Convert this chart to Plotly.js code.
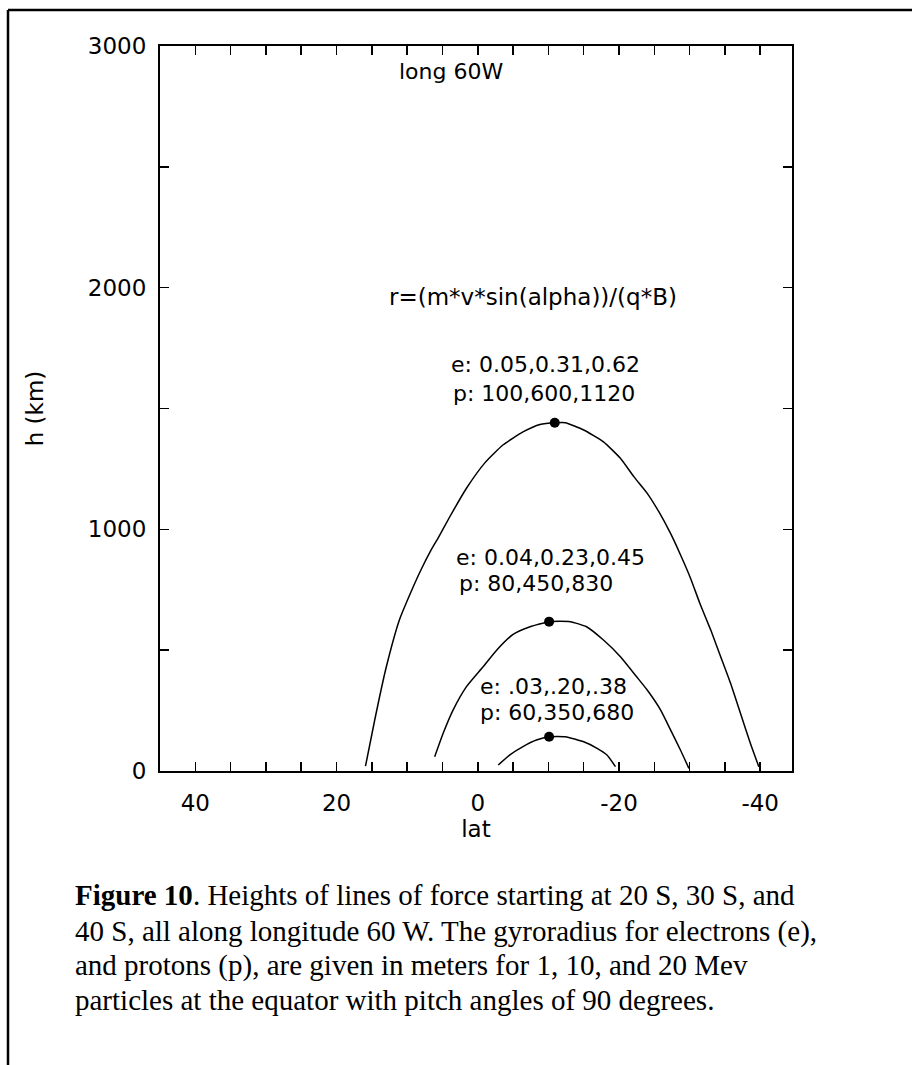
<!DOCTYPE html>
<html>
<head>
<meta charset="utf-8">
<script src="https://cdn.plot.ly/plotly-3.0.1.min.js"></script>
<style>
html,body{margin:0;padding:0;background:#fff;}
#chart{width:912px;height:1065px;}
</style>
</head>
<body>
<div id="chart"></div>
<script>
// ---- data ----
const line40Lat = [15.9, 14.6, 13.0, 11.1, 9.4, 8.0, 6.6, 5.6, 4.0, 1.6, -1.0, -3.6, -6.4, -8.8, -11.1, -12.4, -15.0, -17.8, -20.2, -22.1, -24.0, -25.6, -27.3, -28.7, -30.1, -31.5, -33.0, -34.4, -35.8, -37.2, -38.6, -39.8];
const line40H   = [20, 210, 425, 625, 745, 835, 915, 965, 1050, 1170, 1275, 1350, 1403, 1434, 1441, 1441, 1411, 1362, 1294, 1218, 1149, 1075, 983, 895, 800, 690, 583, 473, 363, 239, 115, 18];

const line30Lat = [6.1, 4.9, 3.5, 1.6, -0.75, -2.7, -5.0, -7.4, -10.1, -13.1, -15.4, -17.8, -20.2, -22.5, -24.0, -25.9, -27.3, -28.7, -29.9];
const line30H   = [59, 156, 252, 349, 431, 501, 565, 597, 618, 618, 597, 542, 473, 390, 335, 252, 170, 87, 11];

const line20Lat = [-2.9, -4.5, -6.4, -8.3, -10.1, -12.4, -15.0, -16.9, -18.3, -19.5];
const line20H   = [25, 66, 101, 128, 142, 142, 121, 94, 66, 18];

const apexLat = [-10.9, -10.1, -10.1];
const apexH   = [1441, 618, 142];

const latTickVals = [40, 35, 30, 25, 20, 15, 10, 5, 0, -5, -10, -15, -20, -25, -30, -35, -40];
const latTickText = ['40', '', '', '', '20', '', '', '', '0', '', '', '', '-20', '', '', '', '-40'];
const hTickVals = [0, 500, 1000, 1500, 2000, 2500, 3000];
const hTickText = ['0', '', '1000', '', '2000', '', '3000'];

const gyroLabels = [
  'e: 0.05,0.31,0.62', 'p: 100,600,1120',
  'e: 0.04,0.23,0.45', 'p: 80,450,830',
  'e: .03,.20,.38', 'p: 60,350,680'
];
const captionLines = [
  '<b>Figure 10</b>. Heights of lines of force starting at 20 S, 30 S, and',
  '40 S, all along longitude 60 W. The gyroradius for electrons (e),',
  'and protons (p), are given in meters for 1, 10, and 20 Mev',
  'particles at the equator with pitch angles of 90 degrees.'
];

// ---- figure ----
const FONT = 'DejaVu Sans, Arial, sans-serif';
const lineStyle = {color: '#000', width: 1.5, shape: 'spline', smoothing: 0.5};

const traces = [
  {x: line40Lat, y: line40H, mode: 'lines', line: lineStyle, hoverinfo: 'skip'},
  {x: line30Lat, y: line30H, mode: 'lines', line: lineStyle, hoverinfo: 'skip'},
  {x: line20Lat, y: line20H, mode: 'lines', line: lineStyle, hoverinfo: 'skip'},
  {x: apexLat, y: apexH, mode: 'markers', marker: {color: '#000', size: 10}, hoverinfo: 'skip'}
];

// plot area in pixels: left 160, right 792, top 46, bottom 771
const L = 160, R = 792, T = 46, B = 771;
const px = v => (v - L) / (R - L);
const py = v => (B - v) / (B - T);

const gyroPos = [
  [4.1, 1684], [3.8, 1564],
  [3.3, 885], [3.0, 774],
  [0.0, 350], [0.0, 243]
];

const annotations = [
  {x: 11.4, y: 2895, xref: 'x', yref: 'y', text: 'long 60W', showarrow: false, xanchor: 'left', font: {family: FONT, size: 22, color: '#000'}},
  {x: 12.8, y: 1960, xref: 'x', yref: 'y', text: 'r=(m*v*sin(alpha))/(q*B)', showarrow: false, xanchor: 'left', font: {family: FONT, size: 23, color: '#000'}}
];
gyroLabels.forEach((t, i) => {
  annotations.push({x: gyroPos[i][0], y: gyroPos[i][1], xref: 'x', yref: 'y', text: t, showarrow: false, xanchor: 'left', font: {family: FONT, size: 22, color: '#000'}});
});
const capY = [895, 931, 966, 1000];
captionLines.forEach((t, i) => {
  annotations.push({x: px(73), y: py(capY[i]), xref: 'paper', yref: 'paper', text: t, showarrow: false, xanchor: 'left', yanchor: 'middle', font: {family: 'Liberation Serif, Times New Roman, serif', size: 29, color: '#000'}});
});

const layout = {
  width: 912, height: 1065,
  paper_bgcolor: '#fff', plot_bgcolor: '#fff',
  showlegend: false,
  margin: {l: L, r: 912 - R, t: T, b: 1065 - B, pad: 0},
  xaxis: {
    range: [45, -44.5], tickmode: 'array', tickvals: latTickVals, ticktext: latTickText,
    ticks: 'inside', ticklen: 9, tickwidth: 1.5, tickcolor: '#000',
    showline: true, linecolor: '#000', linewidth: 2, mirror: 'allticks',
    showgrid: false, zeroline: false, ticklabelstandoff: 10,
    tickfont: {family: FONT, size: 23, color: '#000'},
    title: {text: 'lat', font: {family: FONT, size: 23, color: '#000'}, standoff: 0}
  },
  yaxis: {
    range: [0, 3000], tickmode: 'array', tickvals: hTickVals, ticktext: hTickText,
    ticks: 'inside', ticklen: 9, tickwidth: 1.5, tickcolor: '#000',
    showline: true, linecolor: '#000', linewidth: 2, mirror: 'allticks',
    showgrid: false, zeroline: false, ticklabelstandoff: 7,
    tickfont: {family: FONT, size: 23, color: '#000'},
    title: {text: 'h (km)', font: {family: FONT, size: 23, color: '#000'}, standoff: 38}
  },
  annotations: annotations,
  shapes: [
    {type: 'line', xref: 'paper', yref: 'paper', x0: px(8), x1: px(912), y0: py(10), y1: py(10), line: {color: '#000', width: 2.5}},
    {type: 'line', xref: 'paper', yref: 'paper', x0: px(8), x1: px(8), y0: py(10), y1: py(1065), line: {color: '#000', width: 2.5}}
  ]
};

Plotly.newPlot('chart', traces, layout, {displayModeBar: false, staticPlot: true});
</script>
</body>
</html>
